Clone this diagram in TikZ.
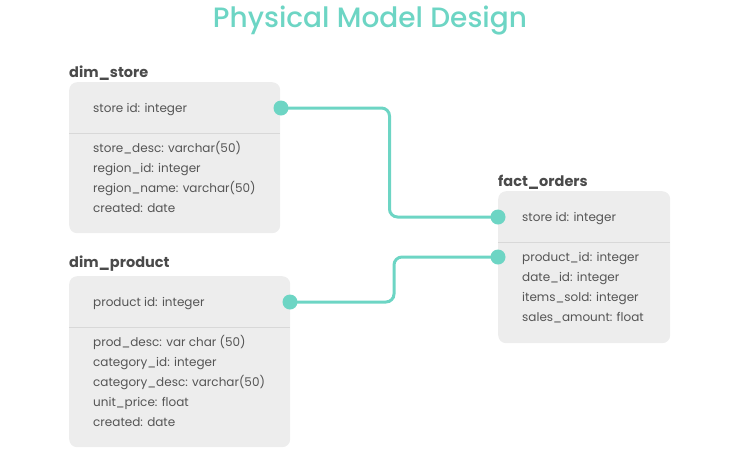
\documentclass[tikz,border=0pt]{standalone}
\usepackage{fontspec}
\setmainfont{Poppins}
\newfontfamily\headfont{Poppins Medium}
\usetikzlibrary{positioning, calc, backgrounds}

\definecolor{mint}{HTML}{6DD5C4}
\definecolor{boxgray}{HTML}{EDEDED}
\definecolor{rulegray}{HTML}{D8D8D8}
\definecolor{fieldgray}{HTML}{555555}
\definecolor{titlegray}{HTML}{4A4A4A}

\tikzset{
    table/.style={fill=boxgray, rounded corners=8pt, anchor=north west, inner sep=0pt},
    tabletitle/.style={anchor=base west, inner sep=0pt, text=titlegray, font=\fontsize{14.5}{17}\selectfont\bfseries},
    field/.style={anchor=base west, inner sep=0pt, text=fieldgray, font=\fontsize{12}{14}\selectfont},
    divider/.style={rulegray, line width=0.8pt},
    keydot/.style={circle, fill=mint, minimum size=15pt, inner sep=0pt},
    link/.style={mint, line width=3pt, rounded corners=8pt}
}

\begin{document}
\begin{tikzpicture}[x=1pt, y=-1pt]
    \useasboundingbox (0,0) rectangle (740,448);
    % Title
    \node[anchor=base, text=mint, font=\fontsize{28}{32}\selectfont\headfont] (title) at (370,27) {Physical Model Design};

    % dim_store
    \node[table, minimum width=211pt, minimum height=151pt] (store) at (69,82) {};
    \node[tabletitle] (store-title) at (69,77) {dim\_store};
    \node[field] (store-id) at (93,112) {store id: integer};
    \draw[divider] (69,133) -- (280,133);
    \foreach \txt [count=\i] in {store\_desc: varchar(50), region\_id: integer, region\_name: varchar(50), created: date}
        \node[field] (store-f\i) at (93,132+20*\i) {\txt};

    % dim_product
    \node[table, minimum width=221pt, minimum height=171pt] (product) at (69,276) {};
    \node[tabletitle] (product-title) at (69,267) {dim\_product};
    \node[field] (product-id) at (93,306) {product id: integer};
    \draw[divider] (69,327) -- (290,327);
    \foreach \txt [count=\i] in {prod\_desc: var char (50), category\_id: integer, category\_desc: varchar(50), unit\_price: float, created: date}
        \node[field] (product-f\i) at (93,326+20*\i) {\txt};

    % fact_orders
    \node[table, minimum width=172pt, minimum height=152pt] (orders) at (498,191) {};
    \node[tabletitle] (orders-title) at (498,186) {fact\_orders};
    \node[field] (orders-id) at (522,221) {store id: integer};
    \draw[divider] (498,242) -- (670,242);
    \foreach \txt [count=\i] in {product\_id: integer, date\_id: integer, items\_sold: integer, sales\_amount: float}
        \node[field] (orders-f\i) at (522,241+20*\i) {\txt};

    % Keys
    \node[keydot] (store-pk) at (281,108) {};
    \node[keydot] (product-pk) at (290,302) {};
    \node[keydot] (orders-store) at (498,217) {};
    \node[keydot] (orders-product) at (498,257) {};

    % Links
    \begin{scope}[on background layer]
        \draw[link] (store-pk.center) -| ($(store-pk)!0.5!(orders-store)$) |- (orders-store.center);
        \draw[link] (product-pk.center) -| ($(product-pk)!0.5!(orders-product)$) |- (orders-product.center);
    \end{scope}
\end{tikzpicture}
\end{document}
